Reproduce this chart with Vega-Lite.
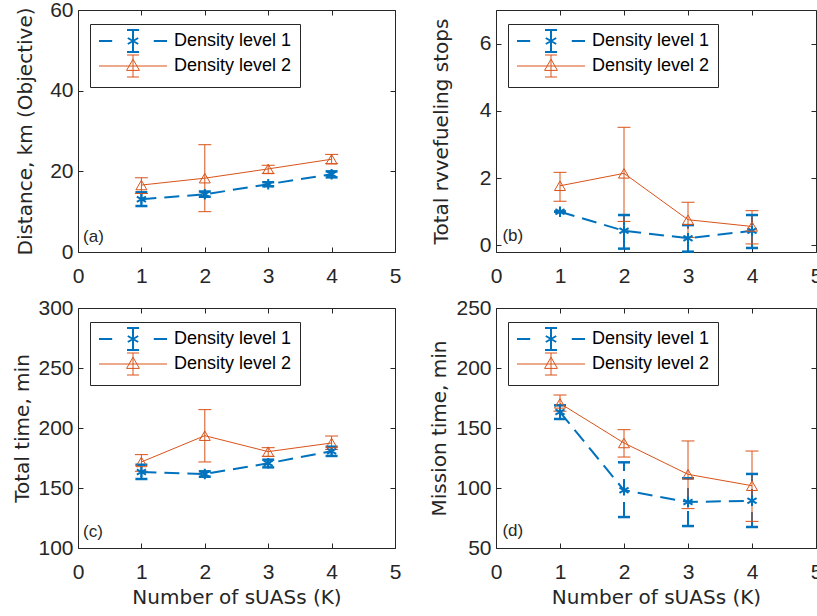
{
  "$schema": "https://vega.github.io/schema/vega-lite/v6.json",
  "padding": {"left": 12, "top": -2, "right": 0, "bottom": 0},
  "datasets": {
    "pts": [
      {"p":"a","s":"Density level 1","K":1,"m":13.1,"lo":11.4,"hi":14.8},
      {"p":"a","s":"Density level 1","K":2,"m":14.3,"lo":13.7,"hi":15.0},
      {"p":"a","s":"Density level 1","K":3,"m":16.8,"lo":16.3,"hi":17.3},
      {"p":"a","s":"Density level 1","K":4,"m":19.3,"lo":18.5,"hi":20.0},
      {"p":"a","s":"Density level 2","K":1,"m":16.6,"lo":14.5,"hi":18.4},
      {"p":"a","s":"Density level 2","K":2,"m":18.3,"lo":10.0,"hi":26.6},
      {"p":"a","s":"Density level 2","K":3,"m":20.6,"lo":19.5,"hi":21.5},
      {"p":"a","s":"Density level 2","K":4,"m":23.0,"lo":21.9,"hi":24.2},
      {"p":"b","s":"Density level 1","K":1,"m":1.0,"lo":1.0,"hi":1.0},
      {"p":"b","s":"Density level 1","K":2,"m":0.43,"lo":-0.1,"hi":0.9},
      {"p":"b","s":"Density level 1","K":3,"m":0.21,"lo":-0.19,"hi":0.6},
      {"p":"b","s":"Density level 1","K":4,"m":0.43,"lo":-0.08,"hi":0.9},
      {"p":"b","s":"Density level 2","K":1,"m":1.77,"lo":1.31,"hi":2.17},
      {"p":"b","s":"Density level 2","K":2,"m":2.14,"lo":0.71,"hi":3.51},
      {"p":"b","s":"Density level 2","K":3,"m":0.76,"lo":0.23,"hi":1.28},
      {"p":"b","s":"Density level 2","K":4,"m":0.56,"lo":0.04,"hi":1.03},
      {"p":"c","s":"Density level 1","K":1,"m":163.3,"lo":157.5,"hi":169.4},
      {"p":"c","s":"Density level 1","K":2,"m":161.7,"lo":159.4,"hi":163.9},
      {"p":"c","s":"Density level 1","K":3,"m":170.6,"lo":167.2,"hi":173.6},
      {"p":"c","s":"Density level 1","K":4,"m":180.6,"lo":176.7,"hi":184.4},
      {"p":"c","s":"Density level 2","K":1,"m":171.7,"lo":163.9,"hi":177.8},
      {"p":"c","s":"Density level 2","K":2,"m":193.6,"lo":171.7,"hi":215.3},
      {"p":"c","s":"Density level 2","K":3,"m":180.3,"lo":176.4,"hi":183.6},
      {"p":"c","s":"Density level 2","K":4,"m":187.5,"lo":182.2,"hi":193.3},
      {"p":"d","s":"Density level 1","K":1,"m":163.3,"lo":157.5,"hi":168.9},
      {"p":"d","s":"Density level 1","K":2,"m":98.1,"lo":75.8,"hi":121.4},
      {"p":"d","s":"Density level 1","K":3,"m":88.3,"lo":68.3,"hi":108.1},
      {"p":"d","s":"Density level 1","K":4,"m":89.4,"lo":67.5,"hi":111.7},
      {"p":"d","s":"Density level 2","K":1,"m":170.5,"lo":164.0,"hi":177.5},
      {"p":"d","s":"Density level 2","K":2,"m":137.5,"lo":125.8,"hi":148.6},
      {"p":"d","s":"Density level 2","K":3,"m":111.4,"lo":82.8,"hi":139.2},
      {"p":"d","s":"Density level 2","K":4,"m":101.9,"lo":72.2,"hi":130.8}
    ]
  },
  "columns": 2,
  "spacing": {"row": 56, "column": 101},
  "bounds": "flush",
  "resolve": {
    "scale": {"x": "independent", "y": "independent", "color": "independent", "shape": "independent"},
    "axis": {"x": "independent", "y": "independent"},
    "legend": {"color": "independent", "shape": "independent"}
  },
  "concat": [
    {
      "width": 317, "height": 242,
      "data": {"name": "pts"},
      "transform": [{"filter": "datum.p == 'a'"}],
      "resolve": {"axis": {"x": "independent", "y": "independent"}},
      "layer": [
        {
          "encoding": {
            "x": {"field": "K", "type": "quantitative", "scale": {"domain": [0, 5], "nice": false}, "axis": {"values": [0,1,2,3,4,5], "title": null}},
            "color": {"field": "s", "type": "nominal", "scale": {"domain": ["Density level 1", "Density level 2"], "range": ["#0072BD", "#D95319"]}, "legend": {"title": null, "encode": {"symbols": {"update": {"opacity": {"value": 1}, "fill": {"value": "transparent"}, "strokeWidth": {"signal": "datum.value == 'Density level 1' ? 2 : 1"}}}}}}
          },
          "layer": [
            {"transform": [{"filter": "datum.s == 'Density level 1'"}], "mark": {"type": "rule", "strokeWidth": 2, "strokeDash": [15, 8]},
             "encoding": {"y": {"field": "lo", "type": "quantitative", "scale": {"domain": [0, 60], "nice": false}, "axis": {"values": [0,20,40,60], "title": "Distance, km (Objective)", "titlePadding": 14}}, "y2": {"field": "hi"}}},
            {"transform": [{"filter": "datum.s == 'Density level 2'"}], "mark": {"type": "rule", "strokeWidth": 1},
             "encoding": {"y": {"field": "lo", "type": "quantitative"}, "y2": {"field": "hi"}}},
            {"transform": [{"filter": "datum.s == 'Density level 1'"}, {"fold": ["lo", "hi"], "as": ["e", "v"]}], "mark": {"type": "rule", "strokeWidth": 2.5, "xOffset": -6, "x2Offset": 6},
             "encoding": {"x2": {"field": "K"}, "y": {"field": "v", "type": "quantitative"}}},
            {"transform": [{"filter": "datum.s == 'Density level 2'"}, {"fold": ["lo", "hi"], "as": ["e", "v"]}], "mark": {"type": "rule", "strokeWidth": 1, "xOffset": -6.5, "x2Offset": 6.5},
             "encoding": {"x2": {"field": "K"}, "y": {"field": "v", "type": "quantitative"}}},
            {"transform": [{"filter": "datum.s == 'Density level 1'"}], "mark": {"type": "line", "strokeWidth": 2, "strokeDash": [15, 8]},
             "encoding": {"y": {"field": "m", "type": "quantitative"}}},
            {"transform": [{"filter": "datum.s == 'Density level 2'"}], "mark": {"type": "line", "strokeWidth": 1},
             "encoding": {"y": {"field": "m", "type": "quantitative"}}},
            {"transform": [{"filter": "datum.s == 'Density level 1'"}], "mark": {"type": "point", "shape": "M0,-1L0,1M-0.87,-0.5L0.87,0.5M-0.87,0.5L0.87,-0.5", "size": 110, "filled": false, "strokeWidth": 2, "opacity": 1},
             "encoding": {"y": {"field": "m", "type": "quantitative"}}},
            {"transform": [{"filter": "datum.s == 'Density level 2'"}], "mark": {"type": "point", "shape": "triangle-up", "size": 120, "filled": false, "strokeWidth": 1, "opacity": 1},
             "encoding": {"y": {"field": "m", "type": "quantitative"}}},
            {"mark": {"type": "point", "size": 256, "filled": false, "opacity": 0},
             "encoding": {"y": {"field": "m", "type": "quantitative"},
               "shape": {"field": "s", "type": "nominal", "scale": {"domain": ["Density level 1", "Density level 2"], "range": ["M-1,0L0.65,0M5.85,0L7.5,0M3.25,-1.375L3.25,1.375M2.5,-1.375L4,-1.375M2.5,1.375L4,1.375M3.25,-0.75L3.25,0.75M2.6,-0.375L3.9,0.375M2.6,0.375L3.9,-0.375", "M-1,0L7.5,0M3.25,-1.375L3.25,1.375M2.5,-1.375L4,-1.375M2.5,1.375L4,1.375M3.25,-0.85L4.05,0.55L2.45,0.55Z"]}, "legend": {"title": null, "encode": {"symbols": {"update": {"opacity": {"value": 1}, "fill": {"value": "transparent"}, "strokeWidth": {"signal": "datum.value == 'Density level 1' ? 2 : 1"}}}}}}}}
          ]
        },
        {"data": {"values": [{}]}, "mark": {"type": "text", "text": "(a)", "align": "left", "baseline": "middle", "font": "Liberation Sans", "fontSize": 17},
         "encoding": {"x": {"datum": 0.08, "type": "quantitative", "axis": {"orient": "top", "labels": false, "title": null, "values": [0,1,2,3,4,5]}}, "y": {"datum": 3.75, "type": "quantitative", "axis": {"orient": "right", "labels": false, "title": null, "values": [0,20,40,60]}}, "color": {"value": "#262626"}}}
      ]
    },
    {
      "width": 320, "height": 242,
      "data": {"name": "pts"},
      "transform": [{"filter": "datum.p == 'b'"}],
      "resolve": {"axis": {"x": "independent", "y": "independent"}},
      "layer": [
        {
          "encoding": {
            "x": {"field": "K", "type": "quantitative", "scale": {"domain": [0, 5], "nice": false}, "axis": {"values": [0,1,2,3,4,5], "title": null}},
            "color": {"field": "s", "type": "nominal", "scale": {"domain": ["Density level 1", "Density level 2"], "range": ["#0072BD", "#D95319"]}, "legend": {"title": null, "encode": {"symbols": {"update": {"opacity": {"value": 1}, "fill": {"value": "transparent"}, "strokeWidth": {"signal": "datum.value == 'Density level 1' ? 2 : 1"}}}}}}
          },
          "layer": [
            {"transform": [{"filter": "datum.s == 'Density level 1'"}], "mark": {"type": "rule", "strokeWidth": 2, "strokeDash": [15, 8]},
             "encoding": {"y": {"field": "lo", "type": "quantitative", "scale": {"domain": [-0.2, 7], "nice": false, "zero": false}, "axis": {"values": [0,2,4,6], "title": "Total rvvefueling stops", "titlePadding": 28}}, "y2": {"field": "hi"}}},
            {"transform": [{"filter": "datum.s == 'Density level 2'"}], "mark": {"type": "rule", "strokeWidth": 1},
             "encoding": {"y": {"field": "lo", "type": "quantitative"}, "y2": {"field": "hi"}}},
            {"transform": [{"filter": "datum.s == 'Density level 1'"}, {"fold": ["lo", "hi"], "as": ["e", "v"]}], "mark": {"type": "rule", "strokeWidth": 2.5, "xOffset": -6, "x2Offset": 6},
             "encoding": {"x2": {"field": "K"}, "y": {"field": "v", "type": "quantitative"}}},
            {"transform": [{"filter": "datum.s == 'Density level 2'"}, {"fold": ["lo", "hi"], "as": ["e", "v"]}], "mark": {"type": "rule", "strokeWidth": 1, "xOffset": -6.5, "x2Offset": 6.5},
             "encoding": {"x2": {"field": "K"}, "y": {"field": "v", "type": "quantitative"}}},
            {"transform": [{"filter": "datum.s == 'Density level 1'"}], "mark": {"type": "line", "strokeWidth": 2, "strokeDash": [15, 8]},
             "encoding": {"y": {"field": "m", "type": "quantitative"}}},
            {"transform": [{"filter": "datum.s == 'Density level 2'"}], "mark": {"type": "line", "strokeWidth": 1},
             "encoding": {"y": {"field": "m", "type": "quantitative"}}},
            {"transform": [{"filter": "datum.s == 'Density level 1'"}], "mark": {"type": "point", "shape": "M0,-1L0,1M-0.87,-0.5L0.87,0.5M-0.87,0.5L0.87,-0.5", "size": 110, "filled": false, "strokeWidth": 2, "opacity": 1},
             "encoding": {"y": {"field": "m", "type": "quantitative"}}},
            {"transform": [{"filter": "datum.s == 'Density level 2'"}], "mark": {"type": "point", "shape": "triangle-up", "size": 120, "filled": false, "strokeWidth": 1, "opacity": 1},
             "encoding": {"y": {"field": "m", "type": "quantitative"}}},
            {"mark": {"type": "point", "size": 256, "filled": false, "opacity": 0},
             "encoding": {"y": {"field": "m", "type": "quantitative"},
               "shape": {"field": "s", "type": "nominal", "scale": {"domain": ["Density level 1", "Density level 2"], "range": ["M-1,0L0.65,0M5.85,0L7.5,0M3.25,-1.375L3.25,1.375M2.5,-1.375L4,-1.375M2.5,1.375L4,1.375M3.25,-0.75L3.25,0.75M2.6,-0.375L3.9,0.375M2.6,0.375L3.9,-0.375", "M-1,0L7.5,0M3.25,-1.375L3.25,1.375M2.5,-1.375L4,-1.375M2.5,1.375L4,1.375M3.25,-0.85L4.05,0.55L2.45,0.55Z"]}, "legend": {"title": null, "encode": {"symbols": {"update": {"opacity": {"value": 1}, "fill": {"value": "transparent"}, "strokeWidth": {"signal": "datum.value == 'Density level 1' ? 2 : 1"}}}}}}}}
          ]
        },
        {"data": {"values": [{}]}, "mark": {"type": "text", "text": "(b)", "align": "left", "baseline": "middle", "font": "Liberation Sans", "fontSize": 17},
         "encoding": {"x": {"datum": 0.1, "type": "quantitative", "axis": {"orient": "top", "labels": false, "title": null, "values": [0,1,2,3,4,5]}}, "y": {"datum": 0.28, "type": "quantitative", "axis": {"orient": "right", "labels": false, "title": null, "values": [0,2,4,6]}}, "color": {"value": "#262626"}}}
      ]
    },
    {
      "width": 317, "height": 240,
      "data": {"name": "pts"},
      "transform": [{"filter": "datum.p == 'c'"}],
      "resolve": {"axis": {"x": "independent", "y": "independent"}},
      "layer": [
        {
          "encoding": {
            "x": {"field": "K", "type": "quantitative", "scale": {"domain": [0, 5], "nice": false}, "axis": {"values": [0,1,2,3,4,5], "title": "Number of sUASs (K)"}},
            "color": {"field": "s", "type": "nominal", "scale": {"domain": ["Density level 1", "Density level 2"], "range": ["#0072BD", "#D95319"]}, "legend": {"title": null, "encode": {"symbols": {"update": {"opacity": {"value": 1}, "fill": {"value": "transparent"}, "strokeWidth": {"signal": "datum.value == 'Density level 1' ? 2 : 1"}}}}}}
          },
          "layer": [
            {"transform": [{"filter": "datum.s == 'Density level 1'"}], "mark": {"type": "rule", "strokeWidth": 2, "strokeDash": [15, 8]},
             "encoding": {"y": {"field": "lo", "type": "quantitative", "scale": {"domain": [100, 300], "nice": false, "zero": false}, "axis": {"values": [100,150,200,250,300], "title": "Total time, min", "titlePadding": 5}}, "y2": {"field": "hi"}}},
            {"transform": [{"filter": "datum.s == 'Density level 2'"}], "mark": {"type": "rule", "strokeWidth": 1},
             "encoding": {"y": {"field": "lo", "type": "quantitative"}, "y2": {"field": "hi"}}},
            {"transform": [{"filter": "datum.s == 'Density level 1'"}, {"fold": ["lo", "hi"], "as": ["e", "v"]}], "mark": {"type": "rule", "strokeWidth": 2.5, "xOffset": -6, "x2Offset": 6},
             "encoding": {"x2": {"field": "K"}, "y": {"field": "v", "type": "quantitative"}}},
            {"transform": [{"filter": "datum.s == 'Density level 2'"}, {"fold": ["lo", "hi"], "as": ["e", "v"]}], "mark": {"type": "rule", "strokeWidth": 1, "xOffset": -6.5, "x2Offset": 6.5},
             "encoding": {"x2": {"field": "K"}, "y": {"field": "v", "type": "quantitative"}}},
            {"transform": [{"filter": "datum.s == 'Density level 1'"}], "mark": {"type": "line", "strokeWidth": 2, "strokeDash": [15, 8]},
             "encoding": {"y": {"field": "m", "type": "quantitative"}}},
            {"transform": [{"filter": "datum.s == 'Density level 2'"}], "mark": {"type": "line", "strokeWidth": 1},
             "encoding": {"y": {"field": "m", "type": "quantitative"}}},
            {"transform": [{"filter": "datum.s == 'Density level 1'"}], "mark": {"type": "point", "shape": "M0,-1L0,1M-0.87,-0.5L0.87,0.5M-0.87,0.5L0.87,-0.5", "size": 110, "filled": false, "strokeWidth": 2, "opacity": 1},
             "encoding": {"y": {"field": "m", "type": "quantitative"}}},
            {"transform": [{"filter": "datum.s == 'Density level 2'"}], "mark": {"type": "point", "shape": "triangle-up", "size": 120, "filled": false, "strokeWidth": 1, "opacity": 1},
             "encoding": {"y": {"field": "m", "type": "quantitative"}}},
            {"mark": {"type": "point", "size": 256, "filled": false, "opacity": 0},
             "encoding": {"y": {"field": "m", "type": "quantitative"},
               "shape": {"field": "s", "type": "nominal", "scale": {"domain": ["Density level 1", "Density level 2"], "range": ["M-1,0L0.65,0M5.85,0L7.5,0M3.25,-1.375L3.25,1.375M2.5,-1.375L4,-1.375M2.5,1.375L4,1.375M3.25,-0.75L3.25,0.75M2.6,-0.375L3.9,0.375M2.6,0.375L3.9,-0.375", "M-1,0L7.5,0M3.25,-1.375L3.25,1.375M2.5,-1.375L4,-1.375M2.5,1.375L4,1.375M3.25,-0.85L4.05,0.55L2.45,0.55Z"]}, "legend": {"title": null, "encode": {"symbols": {"update": {"opacity": {"value": 1}, "fill": {"value": "transparent"}, "strokeWidth": {"signal": "datum.value == 'Density level 1' ? 2 : 1"}}}}}}}}
          ]
        },
        {"data": {"values": [{}]}, "mark": {"type": "text", "text": "(c)", "align": "left", "baseline": "middle", "font": "Liberation Sans", "fontSize": 17},
         "encoding": {"x": {"datum": 0.08, "type": "quantitative", "axis": {"orient": "top", "labels": false, "title": null, "values": [0,1,2,3,4,5]}}, "y": {"datum": 113, "type": "quantitative", "axis": {"orient": "right", "labels": false, "title": null, "values": [100,150,200,250,300]}}, "color": {"value": "#262626"}}}
      ]
    },
    {
      "width": 320, "height": 240,
      "data": {"name": "pts"},
      "transform": [{"filter": "datum.p == 'd'"}],
      "resolve": {"axis": {"x": "independent", "y": "independent"}},
      "layer": [
        {
          "encoding": {
            "x": {"field": "K", "type": "quantitative", "scale": {"domain": [0, 5], "nice": false}, "axis": {"values": [0,1,2,3,4,5], "title": "Number of sUASs (K)"}},
            "color": {"field": "s", "type": "nominal", "scale": {"domain": ["Density level 1", "Density level 2"], "range": ["#0072BD", "#D95319"]}, "legend": {"title": null, "encode": {"symbols": {"update": {"opacity": {"value": 1}, "fill": {"value": "transparent"}, "strokeWidth": {"signal": "datum.value == 'Density level 1' ? 2 : 1"}}}}}}
          },
          "layer": [
            {"transform": [{"filter": "datum.s == 'Density level 1'"}], "mark": {"type": "rule", "strokeWidth": 2, "strokeDash": [15, 8]},
             "encoding": {"y": {"field": "lo", "type": "quantitative", "scale": {"domain": [50, 250], "nice": false, "zero": false}, "axis": {"values": [50,100,150,200,250], "title": "Mission time, min", "titlePadding": 6}}, "y2": {"field": "hi"}}},
            {"transform": [{"filter": "datum.s == 'Density level 2'"}], "mark": {"type": "rule", "strokeWidth": 1},
             "encoding": {"y": {"field": "lo", "type": "quantitative"}, "y2": {"field": "hi"}}},
            {"transform": [{"filter": "datum.s == 'Density level 1'"}, {"fold": ["lo", "hi"], "as": ["e", "v"]}], "mark": {"type": "rule", "strokeWidth": 2.5, "xOffset": -6, "x2Offset": 6},
             "encoding": {"x2": {"field": "K"}, "y": {"field": "v", "type": "quantitative"}}},
            {"transform": [{"filter": "datum.s == 'Density level 2'"}, {"fold": ["lo", "hi"], "as": ["e", "v"]}], "mark": {"type": "rule", "strokeWidth": 1, "xOffset": -6.5, "x2Offset": 6.5},
             "encoding": {"x2": {"field": "K"}, "y": {"field": "v", "type": "quantitative"}}},
            {"transform": [{"filter": "datum.s == 'Density level 1'"}], "mark": {"type": "line", "strokeWidth": 2, "strokeDash": [15, 8]},
             "encoding": {"y": {"field": "m", "type": "quantitative"}}},
            {"transform": [{"filter": "datum.s == 'Density level 2'"}], "mark": {"type": "line", "strokeWidth": 1},
             "encoding": {"y": {"field": "m", "type": "quantitative"}}},
            {"transform": [{"filter": "datum.s == 'Density level 1'"}], "mark": {"type": "point", "shape": "M0,-1L0,1M-0.87,-0.5L0.87,0.5M-0.87,0.5L0.87,-0.5", "size": 110, "filled": false, "strokeWidth": 2, "opacity": 1},
             "encoding": {"y": {"field": "m", "type": "quantitative"}}},
            {"transform": [{"filter": "datum.s == 'Density level 2'"}], "mark": {"type": "point", "shape": "triangle-up", "size": 120, "filled": false, "strokeWidth": 1, "opacity": 1},
             "encoding": {"y": {"field": "m", "type": "quantitative"}}},
            {"mark": {"type": "point", "size": 256, "filled": false, "opacity": 0},
             "encoding": {"y": {"field": "m", "type": "quantitative"},
               "shape": {"field": "s", "type": "nominal", "scale": {"domain": ["Density level 1", "Density level 2"], "range": ["M-1,0L0.65,0M5.85,0L7.5,0M3.25,-1.375L3.25,1.375M2.5,-1.375L4,-1.375M2.5,1.375L4,1.375M3.25,-0.75L3.25,0.75M2.6,-0.375L3.9,0.375M2.6,0.375L3.9,-0.375", "M-1,0L7.5,0M3.25,-1.375L3.25,1.375M2.5,-1.375L4,-1.375M2.5,1.375L4,1.375M3.25,-0.85L4.05,0.55L2.45,0.55Z"]}, "legend": {"title": null, "encode": {"symbols": {"update": {"opacity": {"value": 1}, "fill": {"value": "transparent"}, "strokeWidth": {"signal": "datum.value == 'Density level 1' ? 2 : 1"}}}}}}}}
          ]
        },
        {"data": {"values": [{}]}, "mark": {"type": "text", "text": "(d)", "align": "left", "baseline": "middle", "font": "Liberation Sans", "fontSize": 17},
         "encoding": {"x": {"datum": 0.1, "type": "quantitative", "axis": {"orient": "top", "labels": false, "title": null, "values": [0,1,2,3,4,5]}}, "y": {"datum": 64, "type": "quantitative", "axis": {"orient": "right", "labels": false, "title": null, "values": [50,100,150,200,250]}}, "color": {"value": "#262626"}}}
      ]
    }
  ],
  "config": {
    "font": "Liberation Sans",
    "view": {"stroke": "#262626", "strokeWidth": 1},
    "axis": {"grid": false, "domain": false, "ticks": true, "tickSize": -5, "tickColor": "#262626", "labelFlush": false,
      "labelFont": "Liberation Sans", "labelFontSize": 21, "labelColor": "#262626",
      "titleFont": "DejaVu Sans", "titleFontSize": 20, "titleFontWeight": "normal", "titleColor": "#262626"},
    "axisX": {"labelPadding": 18, "titlePadding": 5},
    "axisY": {"labelPadding": 10},
    "legend": {"orient": "none", "legendX": 12, "legendY": 14, "direction": "vertical",
      "labelFont": "Liberation Sans", "labelFontSize": 18, "labelColor": "#000000", "labelOffset": 58,
      "padding": 8, "rowPadding": -3, "strokeColor": "#262626", "fillColor": "white",
      "symbolSize": 256, "symbolStrokeWidth": 1.5, "symbolFillColor": "transparent"}
  }
}
